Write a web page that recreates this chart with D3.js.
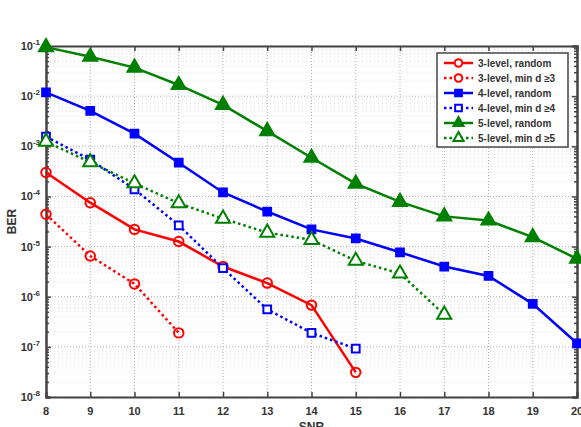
<!DOCTYPE html>
<html>
<head>
<meta charset="utf-8">
<script src="https://cdn.jsdelivr.net/npm/d3@7"></script>
<style>
    html, body { margin: 0; padding: 0; background: #fff; }
    svg { display: block; font-family: "Liberation Sans", Arial, sans-serif; }
    .tick-label { font-size: 11px; font-weight: bold; fill: #333; }
    .axis-title { font-size: 12px; font-weight: bold; fill: #333; }
    .legend-text { font-size: 10px; font-weight: bold; fill: #333; }
</style>
</head>
<body>
<div id="chart"></div>
<script>
// === DATA ===
const snr = [8, 9, 10, 11, 12, 13, 14, 15, 16, 17, 18, 19, 20]
const yDecades = [-8, -7, -6, -5, -4, -3, -2, -1]

const ber3Random = [3.0e-4, 7.5e-5, 2.2e-5, 1.26e-5, 4.0e-6, 1.87e-6, 6.8e-7, 3.1e-8]
const ber3MinD = [4.4e-5, 6.5e-6, 1.8e-6, 1.9e-7]
const ber4Random = [1.19e-2, 5.1e-3, 1.79e-3, 4.7e-4, 1.2e-4, 5.0e-5, 2.2e-5, 1.45e-5, 7.7e-6, 4.0e-6, 2.6e-6, 7.2e-7, 1.18e-7]
const ber4MinD = [1.56e-3, 5.4e-4, 1.39e-4, 2.66e-5, 3.7e-6, 5.6e-7, 1.9e-7, 9.2e-8]
const ber5Random = [9.5e-2, 6.1e-2, 3.7e-2, 1.67e-2, 6.7e-3, 2.0e-3, 5.9e-4, 1.8e-4, 7.8e-5, 4.0e-5, 3.3e-5, 1.54e-5, 5.7e-6]
const ber5MinD = [1.24e-3, 4.8e-4, 1.83e-4, 7.3e-5, 3.6e-5, 1.9e-5, 1.36e-5, 5.2e-6, 2.9e-6, 4.4e-7]

const seriesNames = ['3-level, random', '3-level, min d \u22653', '4-level, random', '4-level, min d \u22654', '5-level, random', '5-level, min d \u22655']
const seriesValues = [ber3Random, ber3MinD, ber4Random, ber4MinD, ber5Random, ber5MinD]
const seriesColors = ['#ff0000', '#ff0000', '#0000ff', '#0000ff', '#008000', '#008000']
const seriesMarkers = ['circle', 'circle', 'square', 'square', 'triangle', 'triangle']
const seriesDotted = [false, true, false, true, false, true]

// === LAYOUT ===
const W = 581, H = 427
const m = { left: 46, right: 4, top: 46, bottom: 30 }
const iw = W - m.left - m.right
const ih = H - m.top - m.bottom
const axisColor = '#444'

const x = d3.scaleLinear().domain([8, 20]).range([0, iw])
const y = d3.scaleLog().domain([1e-8, 1e-1]).range([ih, 0])

const svg = d3.select('#chart').append('svg')
    .attr('width', W)
    .attr('height', H)

const g = svg.append('g').attr('transform', `translate(${m.left},${m.top})`)

// minor log positions
const minorVals = []
yDecades.slice(0, -1).forEach(e => {
    for (let k = 2; k <= 9; k++) minorVals.push(k * Math.pow(10, e))
})

// === GRID ===
const grid = g.append('g')
grid.selectAll('.ymin').data(minorVals).join('line')
    .attr('x1', 0).attr('x2', iw)
    .attr('y1', d => y(d)).attr('y2', d => y(d))
    .attr('stroke', '#dcdcdc').attr('stroke-width', 1)
    .attr('stroke-dasharray', '1,3')
grid.selectAll('.ymaj').data(yDecades).join('line')
    .attr('x1', 0).attr('x2', iw)
    .attr('y1', d => y(Math.pow(10, d))).attr('y2', d => y(Math.pow(10, d)))
    .attr('stroke', '#b0b0b0').attr('stroke-width', 1)
    .attr('stroke-dasharray', '1,2')
grid.selectAll('.xmaj').data(snr).join('line')
    .attr('x1', d => x(d)).attr('x2', d => x(d))
    .attr('y1', 0).attr('y2', ih)
    .attr('stroke', '#b0b0b0').attr('stroke-width', 1)
    .attr('stroke-dasharray', '1,2')

// === AXES ===
const xAxisB = d3.axisBottom(x).tickValues(snr).tickSize(-5).tickFormat('')
const xAxisT = d3.axisTop(x).tickValues(snr).tickSize(-5).tickFormat('')
const yMajor = yDecades.map(e => Math.pow(10, e))
const yAxisL = d3.axisLeft(y).tickValues(yMajor).tickSize(-5).tickFormat('')
const yAxisR = d3.axisRight(y).tickValues(yMajor).tickSize(-5).tickFormat('')
const yMinL = d3.axisLeft(y).tickValues(minorVals).tickSize(-3).tickFormat('')
const yMinR = d3.axisRight(y).tickValues(minorVals).tickSize(-3).tickFormat('')

const axes = [
    [xAxisB, `translate(0,${ih})`],
    [xAxisT, 'translate(0,0)'],
    [yAxisL, 'translate(0,0)'],
    [yAxisR, `translate(${iw},0)`],
    [yMinL, 'translate(0,0)'],
    [yMinR, `translate(${iw},0)`]
]
axes.forEach(([ax, tr]) => {
    const a = g.append('g').attr('transform', tr).call(ax)
    a.select('.domain').attr('stroke', axisColor).attr('stroke-width', 2)
    a.selectAll('.tick line').attr('stroke', axisColor).attr('stroke-width', 1.5)
})

// tick labels
g.selectAll('.xlab').data(snr).join('text')
    .attr('class', 'tick-label')
    .attr('x', d => x(d)).attr('y', ih + 18)
    .attr('text-anchor', 'middle')
    .text(d => d)

const ylab = g.selectAll('.ylab').data(yDecades).join('text')
    .attr('class', 'tick-label')
    .attr('x', -6).attr('y', d => y(Math.pow(10, d)) + 4)
    .attr('text-anchor', 'end')
ylab.append('tspan').text('10')
ylab.append('tspan').attr('dy', -5).style('font-size', '8px').text(d => d)

g.append('text').attr('class', 'axis-title')
    .attr('x', iw / 2).attr('y', ih + 34)
    .attr('text-anchor', 'middle')
    .text('SNR')

g.append('text').attr('class', 'axis-title')
    .attr('transform', `translate(${-30},${ih / 2}) rotate(-90)`)
    .attr('text-anchor', 'middle')
    .text('BER')

// === SERIES ===
const markerPath = (type, size) => {
    if (type === 'circle') return d3.symbol(d3.symbolCircle, size)()
    if (type === 'square') return d3.symbol(d3.symbolSquare, size)()
    return d3.symbol(d3.symbolTriangle, size)()
}
const markerSize = { circle: 70, square: 60, triangle: 85 }
const markerFill = (i) => {
    if (seriesMarkers[i] === 'circle') return 'none'
    return seriesDotted[i] ? '#fff' : seriesColors[i]
}

const line = d3.line().x(d => x(d[0])).y(d => y(d[1]))

const plot = g.append('g')
seriesValues.forEach((vals, i) => {
    const pts = vals.map((v, j) => [snr[j], v])
    plot.append('path')
        .datum(pts)
        .attr('d', line)
        .attr('fill', 'none')
        .attr('stroke', seriesColors[i])
        .attr('stroke-width', 2.5)
        .attr('stroke-dasharray', seriesDotted[i] ? '2.5,3' : null)
    plot.selectAll(null).data(pts).join('path')
        .attr('transform', d => `translate(${x(d[0])},${y(d[1])})`)
        .attr('d', markerPath(seriesMarkers[i], markerSize[seriesMarkers[i]]))
        .attr('fill', markerFill(i))
        .attr('stroke', seriesColors[i])
        .attr('stroke-width', 2)
})

// === LEGEND ===
const lg = svg.append('g').attr('transform', 'translate(437,53)')
lg.append('rect')
    .attr('width', 131).attr('height', 94)
    .attr('fill', '#fff')
    .attr('stroke', axisColor).attr('stroke-width', 1.5)

seriesNames.forEach((name, i) => {
    const ry = 10 + i * 15
    const row = lg.append('g').attr('transform', `translate(0,${ry})`)
    row.append('line')
        .attr('x1', 7).attr('x2', 36)
        .attr('stroke', seriesColors[i])
        .attr('stroke-width', 2.5)
        .attr('stroke-dasharray', seriesDotted[i] ? '2.5,3' : null)
    row.append('path')
        .attr('transform', 'translate(21.5,0)')
        .attr('d', markerPath(seriesMarkers[i], 45))
        .attr('fill', seriesMarkers[i] === 'circle' ? '#fff' : markerFill(i))
        .attr('stroke', seriesColors[i])
        .attr('stroke-width', 2)
    row.append('text')
        .attr('class', 'legend-text')
        .attr('x', 41).attr('y', 3.5)
        .text(name)
})
</script>
</body>
</html>
